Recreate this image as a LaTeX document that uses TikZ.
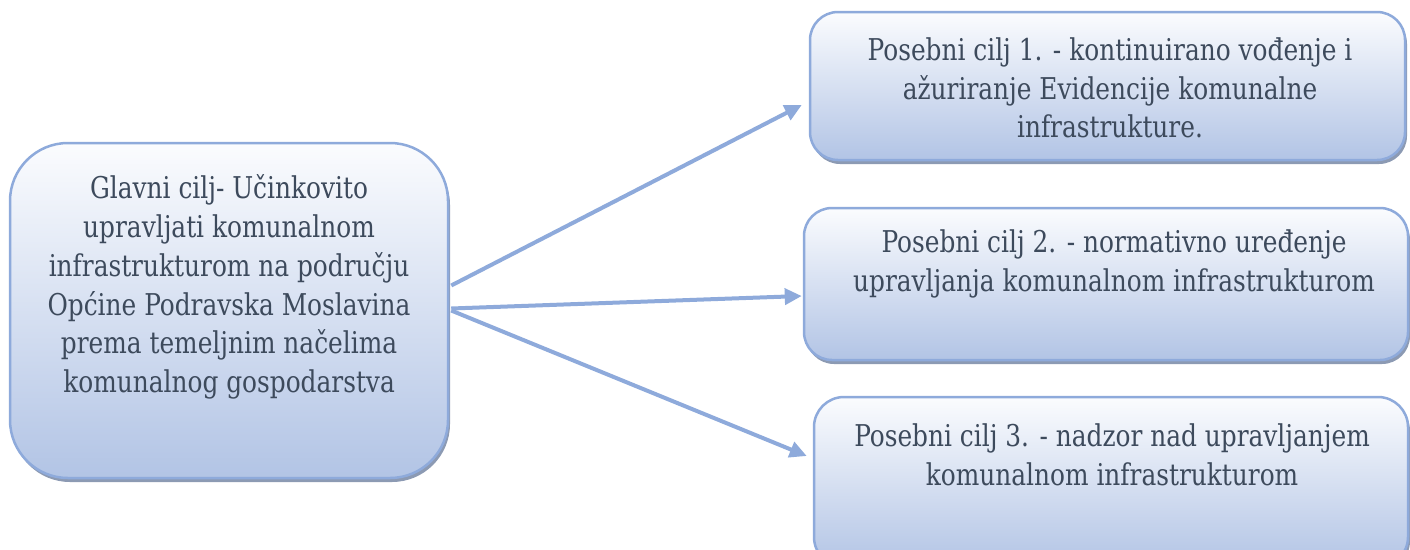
\documentclass[tikz,border=0pt]{standalone}
\usepackage{fontspec}
\setmainfont[FakeStretch=0.92]{DejaVu Serif Condensed}
\usetikzlibrary{arrows.meta,shadows}
\definecolor{edgec}{HTML}{8EAADB}
\definecolor{topc}{HTML}{FBFCFE}
\definecolor{botc}{HTML}{B2C4E5}
\definecolor{shadc}{HTML}{8C9AB3}
\definecolor{txtc}{HTML}{3D4A5C}
\tikzset{
  goalbox/.style={draw=edgec, line width=2.5pt, top color=topc, bottom color=botc,
    drop shadow={shadow xshift=2pt, shadow yshift=-4pt, fill=shadc, opacity=1}},
  goaltext/.style={text=txtc, align=center, inner sep=0pt,
    font=\fontsize{30}{38.8}\selectfont},
  link/.style={draw=edgec, line width=4pt, -{Triangle[length=17pt,width=16pt]}}
}
\begin{document}
\begin{tikzpicture}[x=1pt,y=-1pt]
\useasboundingbox (0,0) rectangle (1410,549);
\clip (0,0) rectangle (1410,549);
\node[goalbox, rounded corners=58pt, minimum width=438pt, minimum height=335pt] (main) at (229,310.5) {};
\node[goalbox, rounded corners=28pt, minimum width=595pt, minimum height=148pt] (g1) at (1107.5,86) {};
\node[goalbox, rounded corners=28pt, minimum width=604pt, minimum height=152pt] (g2) at (1106,284) {};
\node[goalbox, rounded corners=30pt, minimum width=594pt, minimum height=170pt] (g3) at (1111,482) {};
\node[goaltext] (tm) at (229,287) {Glavni cilj- Učinkovito\\upravljati komunalnom\\infrastrukturom na području\\Općine Podravska Moslavina\\prema temeljnim načelima\\komunalnog gospodarstva};
\node[goaltext] (t1) at (1110,88) {Posebni cilj 1. - kontinuirano vođenje i\\ažuriranje Evidencije komunalne\\infrastrukture.};
\node[goaltext] (t2) at (1114,264) {Posebni cilj 2. - normativno uređenje\\upravljanja komunalnom infrastrukturom};
\node[goaltext] (t3) at (1112,455) {Posebni cilj 3. - nadzor nad upravljanjem\\komunalnom infrastrukturom};
\draw[link] ([xshift=2pt,yshift=25pt]main.east) -- ([xshift=-7pt,yshift=-19pt]g1.west);
\draw[link] ([xshift=2pt,yshift=2pt]main.east) -- ([xshift=-1pt,yshift=-12pt]g2.west);
\draw[link] ([xshift=2pt,yshift=0pt]main.east) -- ([xshift=-6pt,yshift=26pt]g3.west);
\end{tikzpicture}
\end{document}
